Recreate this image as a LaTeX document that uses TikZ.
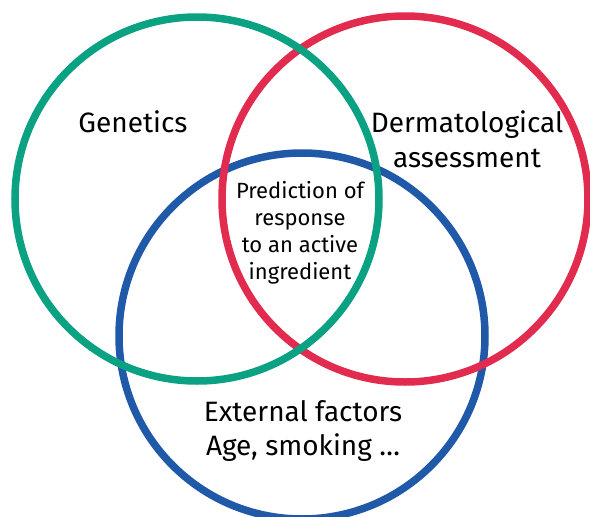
\documentclass[tikz,border=0pt]{standalone}
\usepackage{fontspec}
\setmainfont{Fira Sans}

\definecolor{ringgreen}{HTML}{0BA283}
\definecolor{ringred}{HTML}{E22C4F}
\definecolor{ringblue}{HTML}{1F59A8}

\tikzset{
  ring/.style={line width=7.5pt},
  biglabel/.style={align=center, inner sep=0pt, font=\fontsize{28}{34.5}\selectfont},
  smalllabel/.style={align=center, inner sep=0pt, font=\fontsize{22}{27}\selectfont}
}

\begin{document}
\begin{tikzpicture}[x=1pt, y=-1pt]
      \useasboundingbox (0,0) rectangle (590,517);

      % blue below, then red, green on top
      \draw[ring, ringblue] (302,336) circle[radius=183pt];
      \draw[ring, ringred] (405,199) circle[radius=183pt];
      \draw[ring, ringgreen] (197,199) circle[radius=182pt];

      \node[biglabel] (genetics) at (133,122) {Genetics};
      \node[biglabel] (derm) at (467,139) {Dermatological\\assessment};
      \node[biglabel] (external) at (303,431) {External factors\\Age, smoking \dots};

      \node[smalllabel] (predict) at (300,233) {Prediction of\\response\\to an active\\ingredient};
    \end{tikzpicture}
\end{document}
